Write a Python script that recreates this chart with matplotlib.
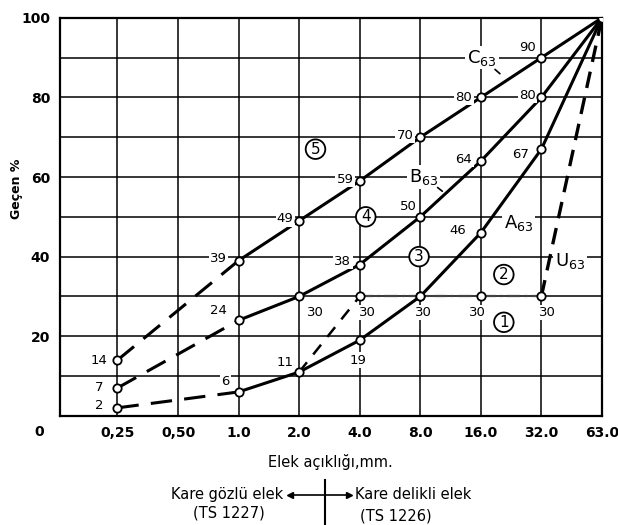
import matplotlib.pyplot as plt
import numpy as np

# sieve sizes (mm) and percent passing for the TS grading curves
sieves = ["0,25", "0,50", "1.0", "2.0", "4.0", "8.0", "16.0", "32.0", "63.0"]
c63_idx = [0, 2, 3, 4, 5, 6, 7, 8]
c63 = [14, 39, 49, 59, 70, 80, 90, 100]
b63_idx = [0, 2, 3, 4, 5, 6, 7, 8]
b63 = [7, 24, 30, 38, 50, 64, 80, 100]
a63_idx = [0, 2, 3, 4, 5, 6, 7, 8]
a63 = [2, 6, 11, 19, 30, 46, 67, 100]
u63_idx = [3, 4, 5, 6, 7, 8]
u63 = [11, 30, 30, 30, 30, 100]

# value labels: (text, x, y)
value_labels = [
    ("14", -0.3, 14), ("7", -0.3, 7), ("2", -0.3, 2.5),
    ("39", 1.67, 39.5), ("24", 1.67, 26.5), ("6", 1.78, 8.5),
    ("49", 2.77, 49.5), ("30", 3.27, 26), ("11", 2.77, 13.5),
    ("59", 3.76, 59.5), ("38", 3.72, 38.8), ("30", 4.13, 26), ("19", 3.98, 14),
    ("70", 4.75, 70.5), ("50", 4.8, 52.5), ("30", 5.05, 26),
    ("80", 5.72, 80), ("64", 5.72, 64.5), ("46", 5.62, 46.5), ("30", 5.94, 26),
    ("90", 6.77, 92.5), ("80", 6.77, 80.5), ("67", 6.65, 65.7), ("30", 7.1, 26),
]
circled = [("5", 3.27, 67), ("4", 4.1, 50), ("3", 4.98, 40), ("2", 6.38, 35.5), ("1", 6.38, 23.5)]
curve_names = [("C", 6.02, 90), ("B", 5.05, 60), ("A", 6.62, 48.5), ("U", 7.47, 39)]

fig = plt.figure(figsize=(6.18, 5.25), dpi=100)
ax = fig.add_axes([0.097, 0.208, 0.877, 0.758])
ax.set_xlim(-0.95, 8.0)
ax.set_ylim(0, 100)

# grid
for k in range(len(sieves)):
    ax.axvline(k, color="black", lw=1.1, zorder=1)
for g in range(10, 100, 10):
    ax.axhline(g, color="black", lw=1.1, zorder=1)
for s in ax.spines.values():
    s.set_linewidth(1.6)

mk = dict(marker="o", ms=6, mfc="white", mec="black", mew=1.3)
lw = 2.2


def draw_curve(idx, vals):
    # first gap (0.25 -> 1.0) dashed, rest solid
    ax.plot(idx[:2], vals[:2], color="black", lw=lw, ls=(0, (7, 4)), zorder=3)
    ax.plot(idx[1:], vals[1:], color="black", lw=lw, zorder=3)
    ax.plot(idx, vals, ls="none", zorder=5, **mk)


draw_curve(c63_idx, c63)
draw_curve(b63_idx, b63)
draw_curve(a63_idx, a63)

# U63 discontinuous grading
ax.plot(u63_idx[:2], u63[:2], color="black", lw=1.8, ls=(0, (5, 4)), zorder=3)
ax.plot(u63_idx[1:5], u63[1:5], color="#444444", lw=1.6, ls=(0, (6, 2, 1, 2)), zorder=3)
ax.plot(u63_idx[4:], u63[4:], color="black", lw=2.4, ls=(0, (5, 3)), zorder=3)
ax.plot(u63_idx[1:5], u63[1:5], ls="none", zorder=5, **mk)

for t, x, y in value_labels:
    ax.text(x, y, t, fontsize=9.5, ha="center", va="center", zorder=4,
            bbox=dict(boxstyle="square,pad=0.1", fc="white", ec="none"))

for t, x, y in circled:
    ax.text(x, y, t, fontsize=11, ha="center", va="center", zorder=4,
            bbox=dict(boxstyle="circle,pad=0.15", fc="white", ec="black", lw=1.3))

for t, x, y in curve_names:
    ax.text(x, y, t + "$_{63}$", fontsize=13, ha="center", va="center", zorder=4,
            bbox=dict(boxstyle="square,pad=0.1", fc="white", ec="none"))

# small leaders from names to curves
ax.annotate("", xy=(6.35, 85.5), xytext=(6.2, 87.5),
            arrowprops=dict(arrowstyle="-", lw=1.2), zorder=4)
ax.annotate("", xy=(5.4, 56), xytext=(5.25, 57.8),
            arrowprops=dict(arrowstyle="-", lw=1.2), zorder=4)

ax.set_xticks(range(len(sieves)))
ax.set_xticklabels(sieves, fontsize=10, fontweight="bold")
ax.set_yticks([20, 40, 60, 80, 100])
ax.set_yticklabels(["20", "40", "60", "80", "100"], fontsize=10, fontweight="bold")
ax.tick_params(length=0, pad=7)
ax.text(-1.3, -4, "0", fontsize=10, fontweight="bold", ha="center", va="center",
        clip_on=False)
ax.set_ylabel("Geçen %", fontsize=9, fontweight="bold")
ax.yaxis.set_label_coords(-0.068, 0.57)

fig.text(0.535, 0.12, "Elek açıklığı,mm.", fontsize=10.5, ha="center", va="center")
fig.text(0.458, 0.058, "Kare gözlü elek", fontsize=10.5, ha="right", va="center")
fig.text(0.575, 0.058, "Kare delikli elek", fontsize=10.5, ha="left", va="center")
fig.text(0.37, 0.022, "(TS 1227)", fontsize=10.5, ha="center", va="center")
fig.text(0.64, 0.018, "(TS 1226)", fontsize=10.5, ha="center", va="center")
fig.add_artist(plt.Line2D([0.526, 0.526], [0.0, 0.085], color="black", lw=1.5))
fig.add_artist(plt.Line2D([0.47, 0.565], [0.058, 0.058], color="black", lw=1.2))
fig.add_artist(plt.Line2D([0.47], [0.058], marker="<", ms=5, color="black"))
fig.add_artist(plt.Line2D([0.565], [0.058], marker=">", ms=5, color="black"))

fig.savefig("out.png", dpi=100)
